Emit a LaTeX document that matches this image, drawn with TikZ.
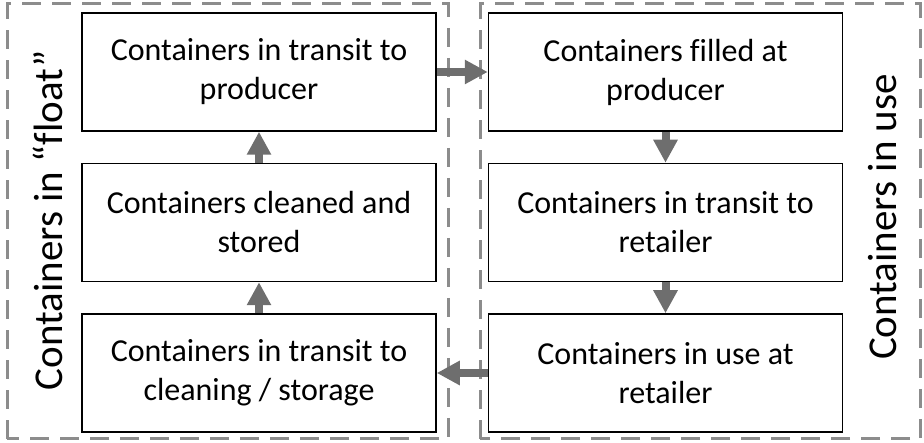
\documentclass[tikz,border=0pt]{standalone}
\usepackage{fontspec}
\setmainfont[Ligatures={TeX,NoCommon}]{Carlito}
\usepackage{tikz}
\usetikzlibrary{arrows.meta,positioning}

\begin{document}
\begin{tikzpicture}[
    x=1pt, y=1pt,
    node distance=31pt and 51pt,
    box/.style={rectangle, draw, line width=1.5pt, minimum width=354pt, minimum height=118pt, align=center, font=\fontsize{32}{39}\selectfont},
    arrow/.style={draw=arrowgray, line width=8pt, -{Triangle[length=23pt,width=23pt]}},
    frame/.style={draw=framegray, line width=3pt, dash pattern=on 19pt off 11pt},
    side/.style={rotate=90, font=\fontsize{41}{45}\selectfont}
]
    \definecolor{arrowgray}{HTML}{6E6E6E}
    \definecolor{framegray}{HTML}{8C8C8C}
    \useasboundingbox (0,0) rectangle (924,443);

    % containers in float
    \draw[frame] (7,4) rectangle (448,439);
    % containers in use
    \draw[frame] (480,4) rectangle (920,439);

    \node[box] (transitprod) at (259,371) {Containers in transit to\\producer};
    \node[box, below=of transitprod] (cleaned) {Containers cleaned and\\stored};
    \node[box, below=of cleaned] (transitclean) {Containers in transit to\\cleaning / storage};
    \node[box, right=of transitprod] (filled) {Containers filled at\\producer};
    \node[box, below=of filled] (transitret) {Containers in transit to\\retailer};
    \node[box, below=of transitret] (useret) {Containers in use at\\retailer};

    \node[side] (floatlabel) at (48,223) {Containers in ``float''};
    \node[side] (uselabel) at (883,226) {Containers in use};

    \draw[arrow] (transitprod) -- (filled);
    \draw[arrow] (filled) -- (transitret);
    \draw[arrow] (transitret) -- (useret);
    \draw[arrow] (useret) -- (transitclean);
    \draw[arrow] (transitclean) -- (cleaned);
    \draw[arrow] (cleaned) -- (transitprod);
\end{tikzpicture}
\end{document}
